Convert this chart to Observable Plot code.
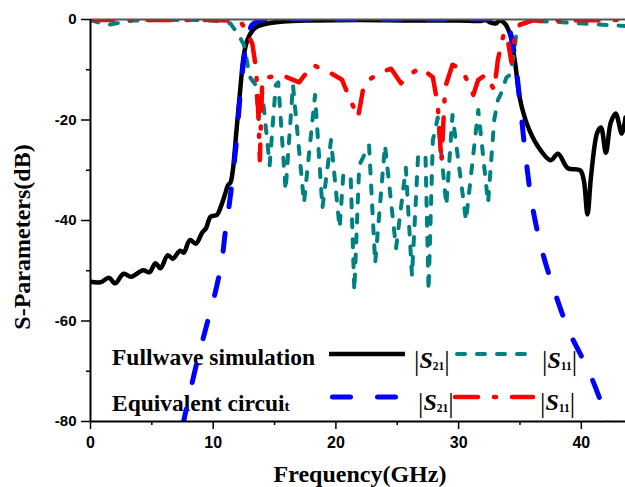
<!DOCTYPE html>
<html><head><meta charset="utf-8">
<script src="https://cdn.jsdelivr.net/npm/d3@7"></script>
<script src="https://cdn.jsdelivr.net/npm/@observablehq/plot@0.6"></script>
<style>body{margin:0;background:#fff} svg{display:block}</style>
</head><body><div id="chart"></div>
<script>
// Frequency (GHz), dB pairs
const fullwaveS21 = [[0,-52.2],[0.8,-52.3],[1.5,-51.4],[2.0,-52.5],[2.7,-50.6],[3.3,-51.2],[4.3,-49.9],[4.8,-50.3],[5.3,-48.5],[5.7,-49.5],[6.3,-46.9],[6.7,-47.6],[7.3,-46.0],[7.6,-46.4],[8.1,-43.9],[8.6,-44.6],[9.1,-42.4],[9.4,-41.6],[9.8,-39.2],[10.3,-38.9],[10.6,-37.4],[11.0,-34.5],[11.2,-33],[11.4,-32.5],[11.6,-30],[11.9,-22],[12.2,-14],[12.5,-7],[12.8,-4],[13.2,-2.2],[13.6,-1.4],[14.4,-0.8],[15.7,-0.4],[18,-0.2],[22,-0.1],[26,-0.2],[30,-0.2],[31.8,-0.3],[32.2,-0.1],[32.6,-0.6],[33.0,-0.8],[33.4,-0.2],[33.8,-0.9],[34.2,-3],[34.6,-8.6],[35.0,-15.8],[35.6,-21],[36.4,-25],[37.5,-28],[38.1,-26.7],[38.9,-29.6],[39.9,-30],[40.2,-32],[40.5,-38.8],[40.8,-31],[41.3,-22.5],[41.6,-21.5],[42.0,-26.5],[42.4,-20.5],[42.8,-18.7],[43.3,-22.7],[43.6,-19.5]];
const fullwaveS11 = [[0,-0.1],[0.8,-0.7],[1.6,-1.0],[2.4,-0.6],[3.5,-0.2],[6,-0.1],[9,-0.1],[10.5,-0.3],[11.4,-0.8],[12.0,-2.8],[12.5,-5],[12.8,-9],[13.0,-11.5],[13.45,-13],[13.7,-19.5],[14.0,-14.5],[14.6,-29],[15.1,-13],[15.3,-12.5],[15.9,-34],[16.5,-13],[17.4,-36.5],[18.3,-15],[18.9,-37.5],[19.6,-24],[20.3,-41.5],[20.6,-31],[21.2,-31],[21.5,-54],[21.9,-29],[22.7,-25],[23.2,-48.5],[24.0,-25],[24.9,-45.5],[25.7,-29.5],[26.2,-51],[26.7,-27],[27.3,-27],[27.55,-54],[27.9,-24],[28.3,-19.5],[29.0,-37],[29.5,-19],[30.6,-40],[31.6,-18],[32.4,-36.5],[32.9,-20],[33.2,-16],[33.5,-14.5],[33.9,-11.5],[34.2,-11],[34.5,-7],[34.7,-3],[35.0,-1],[36,-0.3],[38,-0.5],[41.5,-1.0],[43.6,-1.3]];
const circuitS21 = [[7.5,-81],[8.5,-70],[9.5,-60.5],[10.2,-54],[10.7,-48],[11.0,-42],[11.3,-37],[11.6,-31],[11.9,-24],[12.2,-15],[12.5,-8],[12.8,-3.5],[13.2,-1],[13.8,-0.2],[15,0],[20,0],[25,0],[30,0],[33.3,-0.1],[33.8,-0.8],[34.2,-2.5],[34.7,-10],[35.1,-19],[35.5,-28],[36.0,-37],[36.8,-46],[37.8,-54],[39.0,-62],[40.7,-70.5],[42.0,-79],[42.3,-82]];
const circuitS11 = [[0,-0.1],[5,-0.1],[10,-0.1],[12.2,-0.3],[12.8,-2.6],[13.2,-5],[13.5,-10],[13.7,-20],[13.8,-28],[14.0,-11.8],[14.5,-11.5],[15.5,-11],[17.0,-12.5],[18.1,-9],[19.6,-10.7],[20.5,-12],[21.0,-15],[21.8,-19.5],[22.1,-15.5],[22.3,-12.7],[23.6,-10.5],[24.5,-9.8],[25.3,-12.7],[26.3,-10.5],[26.9,-9.6],[27.9,-11.5],[28.3,-17],[28.6,-28.5],[28.9,-13.5],[29.5,-9],[30.3,-10],[31.2,-15],[31.6,-12],[32.2,-11],[32.9,-14],[33.2,-8],[33.7,-2.6],[34.0,-4],[34.3,-8.5],[34.6,-3],[35.0,-1],[36,-0.2],[43.6,-0.1]];

const xTicks = [0, 10, 20, 30, 40];
const xMinor = [5, 15, 25, 35];
const yTicks = [0, -20, -40, -60, -80];
const yMinor = [-10, -30, -50, -70];

const sans = "'Liberation Sans', Arial, sans-serif";
const serif = "'Liberation Serif', 'Times New Roman', serif";
const X = d => d[0], Y = d => d[1];

const plot = Plot.plot({
  width: 625, height: 487,
  marginLeft: 90, marginRight: 0, marginTop: 19, marginBottom: 66,
  style: {background: "#fff", color: "#000", fontFamily: sans, overflow: "visible"},
  x: {domain: [0, 43.6], label: null},
  y: {domain: [-80, 0], label: null},
  marks: [
    Plot.axisX({ticks: xTicks, tickSize: 8, tickPadding: 7, tickFormat: d => String(d), fontSize: 16, fontWeight: "bold", strokeWidth: 1.5, label: null}),
    Plot.axisX({ticks: xMinor, tickSize: 4, fill: "none", strokeWidth: 1.5, label: null}),
    Plot.axisY({ticks: yTicks, tickSize: 9, tickPadding: 5, tickFormat: d => String(d), fontSize: 15, fontWeight: "bold", strokeWidth: 1.5, label: null}),
    Plot.axisY({ticks: yMinor, tickSize: 4, fill: "none", strokeWidth: 1.5, label: null}),
    Plot.line(fullwaveS21, {x: X, y: Y, stroke: "#000", strokeWidth: 4.5, curve: "catmull-rom", clip: true}),
    Plot.line(fullwaveS11, {x: X, y: Y, stroke: "#008080", strokeWidth: 4, strokeDasharray: "8,12", strokeLinecap: "round", clip: true}),
    Plot.line(circuitS21, {x: X, y: Y, stroke: "#0000ff", strokeWidth: 5, strokeDasharray: "18,27", strokeLinecap: "round", curve: "catmull-rom", clip: true}),
    Plot.line(circuitS11, {x: X, y: Y, stroke: "#ff0000", strokeWidth: 4.5, strokeDasharray: "23,16,2,16", strokeLinecap: "round", clip: true}),
    Plot.ruleY([0], {stroke: "#555", strokeWidth: 2}),
    Plot.ruleX([0], {stroke: "#000", strokeWidth: 2}),
    Plot.ruleY([-80], {stroke: "#000", strokeWidth: 2})
  ]
});
document.getElementById("chart").appendChild(plot);

const svg = d3.select(plot);
// axis titles
svg.append("text").attr("transform", "translate(30,237) rotate(-90)").attr("text-anchor", "middle")
  .attr("font-family", serif).attr("font-weight", "bold").attr("font-size", 24).text("S-Parameters(dB)");
svg.append("text").attr("x", 360).attr("y", 482).attr("text-anchor", "middle")
  .attr("font-family", serif).attr("font-weight", "bold").attr("font-size", 24).text("Frequency(GHz)");

// legend (under the curves)
const lg = svg.insert("g", "g[aria-label='line']").attr("font-family", serif).attr("text-anchor", "start");
lg.append("text").attr("x", 112).attr("y", 365).attr("font-weight", "bold").attr("font-size", 23.5).text("Fullwave simulation");
const eq = lg.append("text").attr("x", 112).attr("y", 411).attr("font-weight", "bold").attr("font-size", 23.5);
eq.append("tspan").text("Equivalent circui");
eq.append("tspan").attr("font-size", 15).text("t");

function sLabel(x, y, sub) {
  const t = lg.append("text").attr("x", x).attr("y", y).attr("font-size", 24);
  t.append("tspan").attr("font-size", 27).attr("dy", 2).text("|");
  t.append("tspan").attr("font-style", "italic").attr("font-weight", "bold").attr("dy", -2).text("S");
  t.append("tspan").attr("font-size", 11.5).attr("font-weight", "bold").attr("dy", 2).text(sub);
  t.append("tspan").attr("font-size", 27).attr("dy", 0).text("|");
}
sLabel(414, 368, "21");
sLabel(542, 368, "11");
sLabel(418, 410, "21");
sLabel(540, 410, "11");

function sample(x1, x2, y, stroke, w, dash) {
  const l = lg.append("line").attr("x1", x1).attr("x2", x2).attr("y1", y).attr("y2", y)
    .attr("stroke", stroke).attr("stroke-width", w);
  if (dash) l.attr("stroke-dasharray", dash).attr("stroke-linecap", "round");
}
sample(329, 405, 354, "#000", 4.5, null);
sample(457, 528, 354, "#008080", 4, "8,12");
sample(332.5, 398, 397, "#0000ff", 5, "18,27");
sample(455, 533, 397, "#ff0000", 4.5, "23,16,2,16");
</script></body></html>
